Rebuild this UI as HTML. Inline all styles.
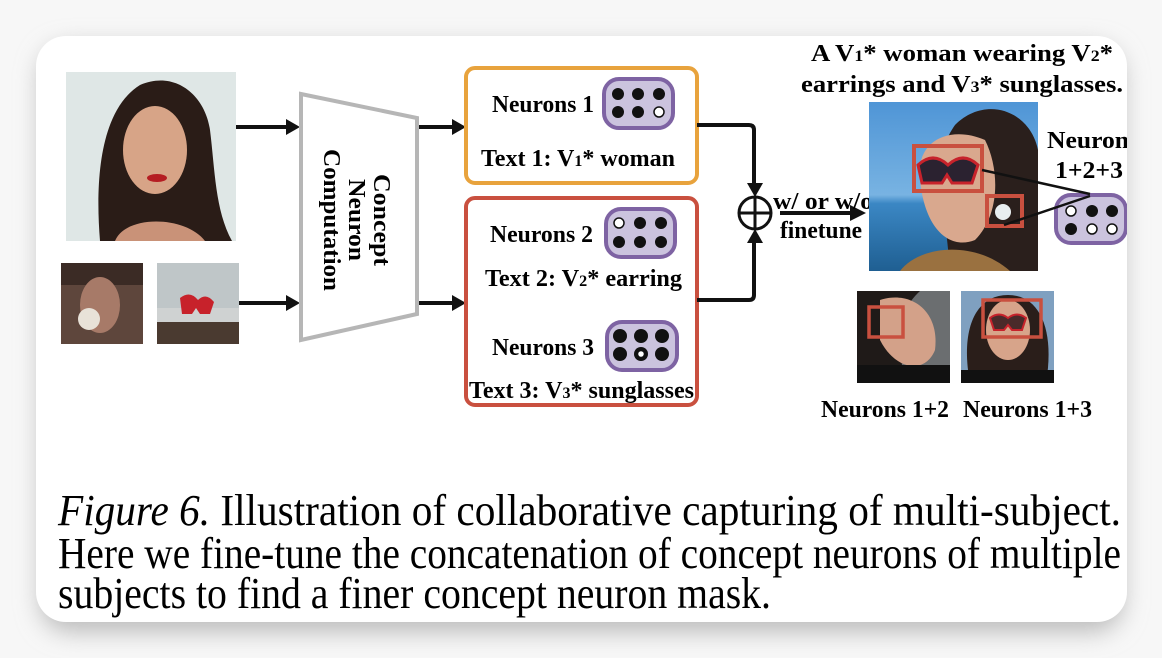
<!DOCTYPE html>
<html><head><meta charset="utf-8"><style>
html,body{margin:0;padding:0;background:#efefef;width:1162px;height:658px;overflow:hidden}
</style></head><body>
<svg width="1162" height="658" viewBox="0 0 1162 658" xmlns="http://www.w3.org/2000/svg" font-family="Liberation Serif, serif">
<defs>
<filter id="sh" x="-10%" y="-10%" width="120%" height="130%"><feGaussianBlur stdDeviation="12"/></filter>
<linearGradient id="sky" x1="0" y1="0" x2="0" y2="1"><stop offset="0" stop-color="#4f95d6"/><stop offset="0.55" stop-color="#78b3e2"/><stop offset="0.6" stop-color="#3b87c4"/><stop offset="1" stop-color="#1f5f92"/></linearGradient>
<clipPath id="cardclip"><rect x="36" y="36" width="1091" height="586" rx="30"/></clipPath>
</defs>
<rect x="0" y="0" width="1162" height="658" fill="#f7f7f7"/>
<rect x="40" y="46" width="1083" height="586" rx="30" fill="#bbb" filter="url(#sh)"/>
<rect x="36" y="36" width="1091" height="586" rx="30" fill="#fff"/>
<g clip-path="url(#cardclip)">
<rect x="66" y="72" width="170" height="169" fill="#dfe7e6"/>
<path d="M100 241 C95 180 100 110 140 85 C175 70 205 95 210 130 C215 170 215 210 232 241 Z" fill="#2a1c17"/>
<ellipse cx="155" cy="150" rx="32" ry="44" fill="#d7a487"/>
<path d="M115 241 C125 215 185 215 205 241 Z" fill="#c99278"/>
<ellipse cx="157" cy="178" rx="10" ry="4" fill="#b51d22"/>
<rect x="61" y="263" width="82" height="81" fill="#5e463c"/>
<rect x="61" y="263" width="82" height="22" fill="#3b2b25"/>
<ellipse cx="100" cy="305" rx="20" ry="28" fill="#a77a68"/>
<circle cx="89" cy="319" r="11" fill="#e8e2d8"/>
<rect x="157" y="263" width="82" height="81" fill="#cfd2d2"/>
<rect x="157" y="263" width="82" height="45" fill="#bfc6c8"/>
<rect x="157" y="322" width="82" height="22" fill="#4a3a30"/>
<path d="M180 298 q10 -8 18 2 q8 -8 16 2 l-4 12 h-10 l-4 -6 l-4 6 h-10z" fill="#c7222b"/>
<g stroke="#111" stroke-width="4"><line x1="236" y1="127" x2="288" y2="127"/><line x1="239" y1="303" x2="288" y2="303"/>
<line x1="418" y1="127" x2="454" y2="127"/><line x1="418" y1="303" x2="454" y2="303"/></g>
<g fill="#111"><path d="M286 119 L300 127 L286 135Z"/><path d="M286 295 L300 303 L286 311Z"/>
<path d="M452 119 L466 127 L452 135Z"/><path d="M452 295 L466 303 L452 311Z"/></g>
<path d="M301 94 L417 118 L417 314 L301 340 Z" fill="#fff" stroke="#b6b6b6" stroke-width="4"/>
<g transform="translate(358 220) rotate(90)" font-weight="bold" font-size="24" text-anchor="middle" fill="#000">
<text x="0" y="-16" textLength="92" lengthAdjust="spacingAndGlyphs">Concept</text>
<text x="0" y="9" textLength="82" lengthAdjust="spacingAndGlyphs">Neuron</text>
<text x="0" y="34" textLength="142" lengthAdjust="spacingAndGlyphs">Computation</text></g>
<rect x="466" y="68" width="231" height="115" rx="9" fill="#fff" stroke="#e8a33d" stroke-width="4"/>
<rect x="466" y="198" width="231" height="207" rx="9" fill="#fff" stroke="#c9503f" stroke-width="4"/>
<g font-weight="bold" font-size="24" fill="#000">
<text x="492" y="112" textLength="102" lengthAdjust="spacingAndGlyphs">Neurons 1</text>
<text x="481" y="166" textLength="194" lengthAdjust="spacingAndGlyphs">Text 1: V<tspan font-size="16">1</tspan>* woman</text>
<text x="490" y="242" textLength="103" lengthAdjust="spacingAndGlyphs">Neurons 2</text>
<text x="485" y="286" textLength="197" lengthAdjust="spacingAndGlyphs">Text 2: V<tspan font-size="16">2</tspan>* earring</text>
<text x="492" y="355" textLength="102" lengthAdjust="spacingAndGlyphs">Neurons 3</text>
<text x="469" y="398" textLength="225" lengthAdjust="spacingAndGlyphs">Text 3: V<tspan font-size="16">3</tspan>* sunglasses</text>
</g>
<g stroke="#7e63a3" stroke-width="4" fill="#cbc3de">
<rect x="604" y="79" width="69" height="49" rx="15"/>
<rect x="606" y="209" width="69" height="48" rx="15"/>
<rect x="607" y="322" width="70" height="48" rx="15"/>
<rect x="1056" y="195" width="70" height="48" rx="15"/>
</g>
<g fill="#111">
<circle cx="618" cy="94" r="6"/><circle cx="638" cy="94" r="6"/><circle cx="659" cy="94" r="6"/>
<circle cx="618" cy="112" r="6"/><circle cx="638" cy="112" r="6"/>
<circle cx="640" cy="223" r="6"/><circle cx="661" cy="223" r="6"/>
<circle cx="619" cy="242" r="6"/><circle cx="640" cy="242" r="6"/><circle cx="661" cy="242" r="6"/>
<circle cx="620" cy="336" r="7"/><circle cx="641" cy="336" r="7"/><circle cx="662" cy="336" r="7"/>
<circle cx="620" cy="354" r="7"/><circle cx="641" cy="354" r="7"/><circle cx="662" cy="354" r="7"/>
<circle cx="1092" cy="211" r="6"/><circle cx="1112" cy="211" r="6"/><circle cx="1071" cy="229" r="6"/>
</g>
<g fill="#fff" stroke="#111" stroke-width="1.5">
<circle cx="659" cy="112" r="5"/><circle cx="619" cy="223" r="5"/><circle cx="641" cy="354" r="3.5"/>
<circle cx="1071" cy="211" r="5"/><circle cx="1092" cy="229" r="5"/><circle cx="1112" cy="229" r="5"/>
</g>
<g fill="none" stroke="#111" stroke-width="4" stroke-linejoin="round">
<path d="M697 125 H749 Q754 125 754 130 V186"/>
<path d="M697 300 H749 Q754 300 754 295 V240"/>
<circle cx="755" cy="213" r="16" stroke-width="3"/>
<line x1="739" y1="213" x2="771" y2="213" stroke-width="3"/><line x1="755" y1="197" x2="755" y2="229" stroke-width="3"/>
<line x1="780" y1="213" x2="852" y2="213"/>
</g>
<g fill="#111"><path d="M747 183 L755 197 L763 183Z"/><path d="M747 243 L755 229 L763 243Z"/><path d="M850 205 L866 213 L850 221Z"/></g>
<g font-weight="bold" font-size="24" fill="#000">
<text x="773" y="209" textLength="100" lengthAdjust="spacingAndGlyphs">w/ or w/o</text>
<text x="780" y="238" textLength="82" lengthAdjust="spacingAndGlyphs">finetune</text>
<text x="811" y="61" textLength="302" lengthAdjust="spacingAndGlyphs">A V<tspan font-size="16">1</tspan>* woman wearing V<tspan font-size="16">2</tspan>*</text>
<text x="801" y="92" textLength="322" lengthAdjust="spacingAndGlyphs">earrings and V<tspan font-size="16">3</tspan>* sunglasses.</text>
<text x="1047" y="148" textLength="92" lengthAdjust="spacingAndGlyphs">Neurons</text>
<text x="1055" y="178" textLength="68" lengthAdjust="spacingAndGlyphs">1+2+3</text>
<text x="821" y="417" textLength="128" lengthAdjust="spacingAndGlyphs">Neurons 1+2</text>
<text x="963" y="417" textLength="129" lengthAdjust="spacingAndGlyphs">Neurons 1+3</text>
</g>
<rect x="869" y="102" width="169" height="169" fill="url(#sky)"/>
<path d="M950 271 C945 200 930 160 955 125 C985 95 1030 110 1038 150 V271 Z" fill="#2a1f1c"/>
<path d="M920 180 C915 140 950 125 985 140 C1000 170 1000 215 975 240 C950 250 925 230 920 180Z" fill="#d9a88e"/>
<path d="M900 271 C920 245 975 240 1010 271Z" fill="#9a7140"/>
<path d="M918 165 q15 -14 30 0 q15 -14 30 0 l-6 18 h-20 l-5 -8 l-5 8 h-20z" fill="#2b2230" stroke="#c7222b" stroke-width="3"/>
<circle cx="1003" cy="212" r="8" fill="#e8eef0"/>
<g fill="none" stroke="#c9503f" stroke-width="4">
<rect x="914" y="146" width="68" height="45"/><rect x="987" y="196" width="35" height="30"/>
</g>
<g stroke="#111" stroke-width="2.5"><line x1="982" y1="170" x2="1090" y2="194"/><line x1="1004" y1="225" x2="1090" y2="196"/></g>
<rect x="857" y="291" width="93" height="92" fill="#6b6e70"/>
<path d="M857 291 H920 C900 310 895 330 905 383 H857Z" fill="#1f1a18"/>
<path d="M880 300 C910 290 940 310 935 350 C925 375 895 370 880 340Z" fill="#d3a189"/>
<path d="M857 365 H950 V383 H857Z" fill="#111"/>
<rect x="869" y="307" width="34" height="30" fill="none" stroke="#c9503f" stroke-width="3.5"/>
<rect x="961" y="291" width="93" height="92" fill="#7fa0c0"/>
<path d="M970 383 C960 330 975 295 1008 295 C1040 295 1055 330 1046 383Z" fill="#2a1e1a"/>
<ellipse cx="1008" cy="330" rx="22" ry="30" fill="#d7a48a"/>
<path d="M961 370 H1054 V383 H961Z" fill="#111"/>
<path d="M990 318 q9 -7 18 0 q9 -7 18 0 l-4 12 h-10 l-4 -5 l-4 5 h-10z" fill="#4a2a2a" stroke="#c7222b" stroke-width="2"/>
<rect x="983" y="300" width="58" height="37" fill="none" stroke="#c9503f" stroke-width="3.5"/>
<g font-size="44" fill="#000">
<text x="58" y="525" textLength="1063" lengthAdjust="spacingAndGlyphs"><tspan font-style="italic">Figure 6.</tspan>  Illustration of collaborative capturing of multi-subject.</text>
<text x="58" y="568" textLength="1063" lengthAdjust="spacingAndGlyphs">Here we fine-tune the concatenation of concept neurons of multiple</text>
<text x="58" y="608" textLength="713" lengthAdjust="spacingAndGlyphs">subjects to find a finer concept neuron mask.</text>
</g>
</g>
</svg>
</body></html>
